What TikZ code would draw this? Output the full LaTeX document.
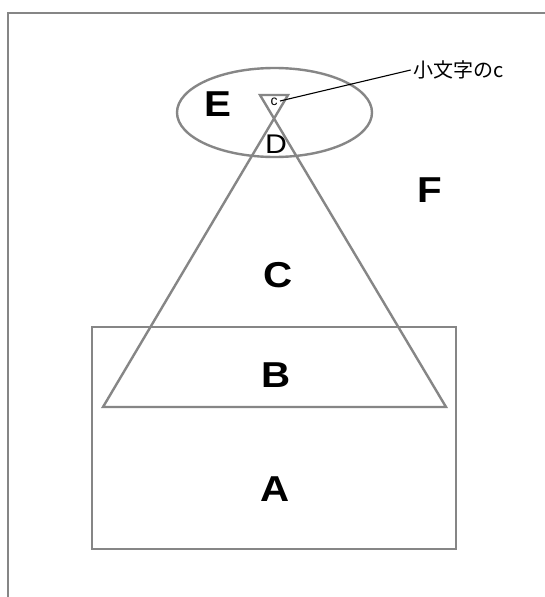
\documentclass[tikz,border=0pt]{standalone}
\usepackage{fontspec}
\setmainfont{Liberation Sans}
\newfontfamily\bigfont{Liberation Sans}[FakeStretch=1.12]
\newfontfamily\cjk{Noto Sans CJK JP}
\definecolor{linegray}{HTML}{868686}
\begin{document}
\begin{tikzpicture}[x=1pt,y=-1pt,
  shapeline/.style={draw=linegray,line width=2.4pt},
  framelin/.style={draw=linegray,line width=2pt},
  biglabel/.style={inner sep=0pt,font=\bigfont\bfseries\fontsize{36}{36}\selectfont},
  midlabel/.style={inner sep=0pt,font=\bigfont\fontsize{27}{27}\selectfont},
  smalllabel/.style={inner sep=0pt,font=\fontsize{14}{14}\selectfont},
  jplabel/.style={inner sep=0pt,font=\cjk\fontsize{20}{20}\selectfont}]
\useasboundingbox (0,0) rectangle (545,597);
\fill[white] (0,0) rectangle (545,597);
\clip (0,0) rectangle (545,597);
% outer frame (runs past the picture edges)
\draw[framelin] (8,13) rectangle (570,620);
% rectangle
\draw[shapeline] (92,327) rectangle (456,549);
% ellipse
\draw[shapeline] (274.5,112.5) ellipse [x radius=97.5, y radius=44.5];
% hourglass triangle
\draw[shapeline,line join=miter] (103,407) -- (288,95) -- (260,95) -- (446,407) -- cycle;
% labels
\node[biglabel] (E) at (218,104) {E};
\node[midlabel] (D) at (276,144) {D};
\node[smalllabel] (c) at (274,102) {c};
\node[biglabel] (F) at (430,190) {F};
\node[biglabel] (C) at (278,275) {C};
\node[biglabel] (B) at (276,375) {B};
\node[biglabel] (A) at (275,489) {A};
\node[jplabel] (jp) at (459,70) {小文字のc};
\coordinate (cpt) at (280,101);
\draw[line width=1.1pt] (cpt) -- ([xshift=-3pt]jp.west);
\end{tikzpicture}
\end{document}
